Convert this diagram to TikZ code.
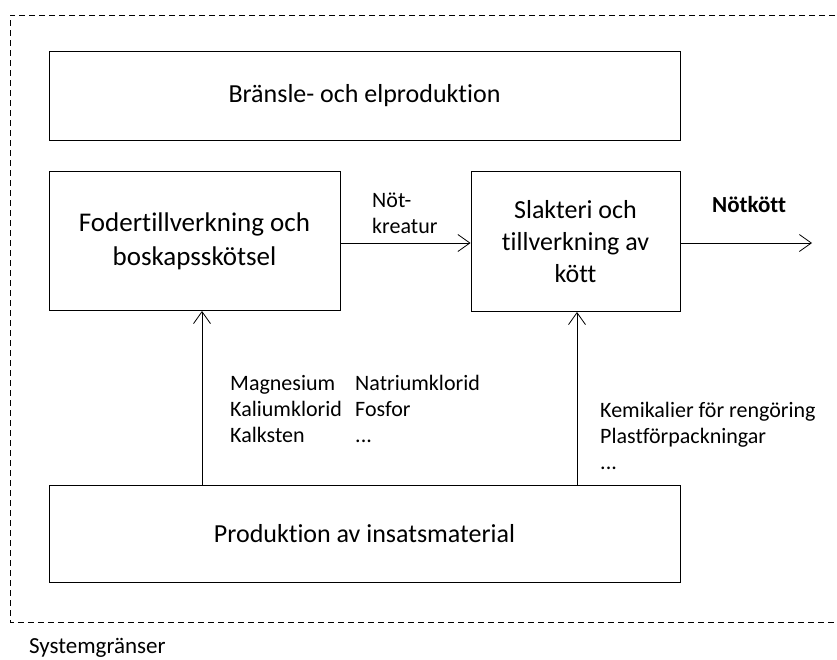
\documentclass[tikz,border=0pt]{standalone}
\usepackage{fontspec}
\setmainfont{Carlito}[Ligatures={NoCommon,NoContextual}]
\usetikzlibrary{arrows.meta}
\begin{document}
\begin{tikzpicture}[x=1pt,y=-1pt,
  box/.style={draw, line width=0.9pt, inner sep=0pt, font=\fontsize{26}{32}\selectfont, align=center},
  lbl/.style={font=\fontsize{22}{26}\selectfont, align=left, anchor=north west, inner sep=0pt},
  flow/.style={line width=0.8pt, -{Straight Barb[length=12pt,width=17pt,line width=0.8pt]}},
  boundary/.style={draw, line width=0.8pt, dash pattern=on 6pt off 4pt}]
\useasboundingbox (0,0) rectangle (837,659);
\draw[boundary] (845,15) -- (10,15) -- (10,622) -- (845,622);
\node[box, minimum width=631pt, minimum height=89pt] (fuel) at (364.5,95.5) {Bränsle- och elproduktion};
\node[box, minimum width=291pt, minimum height=139pt, font=\fontsize{27}{34}\selectfont, inner ysep=0pt] (feed) at (194.5,241) {\rule{0pt}{20pt}Fodertillverkning och\\boskapsskötsel};
\node[box, minimum width=209pt, minimum height=140pt] (slak) at (575.5,241.5) {Slakteri och\\tillverkning av\\kött};
\node[box, minimum width=631pt, minimum height=97pt] (prod) at (364.5,533.5) {Produktion av insatsmaterial};
\coordinate (out) at (812,243);
\draw[flow] (feed.east |- 0,243) -- (slak.west |- 0,243);
\draw[flow] (slak.east |- 0,243) -- (out);
\draw[flow] (prod.north -| 202,0) -- (feed.south -| 202,0);
\draw[flow] (prod.north -| 577,0) -- (slak.south -| 577,0);
\node[lbl] (nk) at (372,193) {Nöt-\\kreatur};
\node[lbl, font=\fontsize{23}{26}\selectfont\bfseries] (nkott) at (712,196) {Nötkött};
\node[lbl] (m1) at (230,375) {Magnesium\\Kaliumklorid\\Kalksten};
\node[lbl] (m2) at (355,375) {Natriumklorid\\Fosfor\\...};
\node[lbl] (m3) at (600,402) {Kemikalier för rengöring\\Plastförpackningar\\...};
\node[lbl, font=\fontsize{23}{26}\selectfont] (sys) at (29,638) {Systemgränser};
\end{tikzpicture}
\end{document}
